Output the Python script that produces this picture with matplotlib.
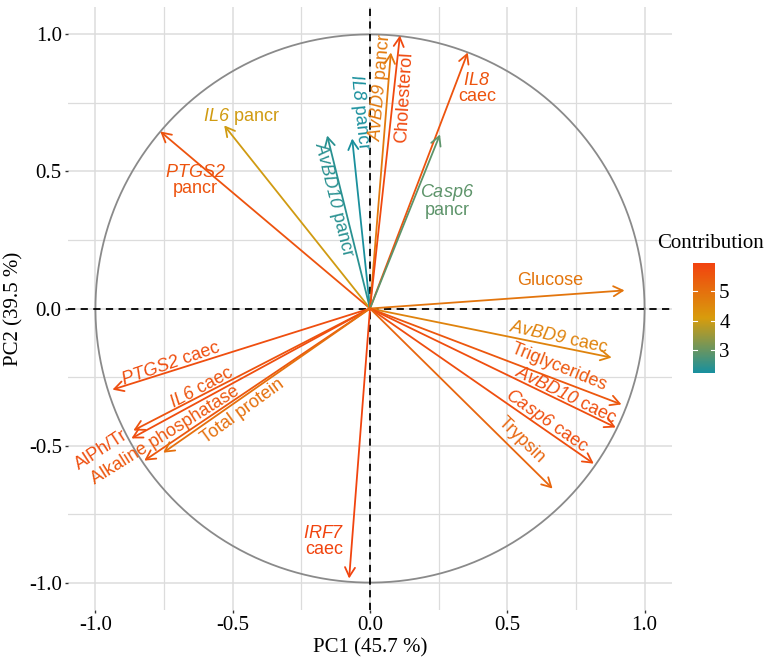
import numpy as np
import matplotlib
matplotlib.use("Agg")
import matplotlib.pyplot as plt
from matplotlib.colors import LinearSegmentedColormap, Normalize
from matplotlib.cm import ScalarMappable

# gene names in italics: math "rm" points at the italic face so digits slant too
plt.rcParams["mathtext.fontset"] = "custom"
plt.rcParams["mathtext.rm"] = "Liberation Sans:italic"
plt.rcParams["mathtext.it"] = "Liberation Sans:italic"

# variables of the correlation circle (coords on PC1 / PC2) and contribution
labels = [
    "$\\mathrm{PTGS2}$\npancr", "$\\mathrm{IL6}$ pancr", "$\\mathrm{AvBD10}$ pancr",
    "$\\mathrm{IL8}$ pancr", "$\\mathrm{AvBD9}$ pancr", "Cholesterol",
    "$\\mathrm{IL8}$\ncaec", "$\\mathrm{Casp6}$\npancr", "Glucose",
    "$\\mathrm{AvBD9}$ caec", "Triglycerides", "$\\mathrm{AvBD10}$ caec",
    "$\\mathrm{Casp6}$ caec", "Trypsin", "$\\mathrm{IRF7}$\ncaec",
    "$\\mathrm{PTGS2}$ caec", "$\\mathrm{IL6}$ caec", "AlPh/Tr",
    "Alkaline phosphatase", "Total protein",
]
pc1 = [-0.764, -0.531, -0.156, -0.065, 0.076, 0.109, 0.356, 0.255, 0.927,
       0.880, 0.916, 0.895, 0.815, 0.665, -0.076, -0.938, -0.862, -0.869,
       -0.822, -0.753]
pc2 = [0.646, 0.668, 0.631, 0.620, 0.934, 0.996, 0.934, 0.635, 0.066,
       -0.179, -0.350, -0.434, -0.566, -0.657, -0.985, -0.296, -0.445, -0.474,
       -0.555, -0.526]
contrib = [5.6, 4.0, 2.4, 2.25, 4.8, 5.8, 5.6, 2.9, 4.9,
           4.6, 5.5, 5.7, 5.7, 5.2, 5.9, 5.7, 5.6, 5.7,
           5.5, 5.0]

# label placement (x, y, rotation)
lab_pos = [(-0.636, 0.467, 0), (-0.469, 0.701, 0), (-0.131, 0.394, -76),
           (-0.040, 0.715, -84), (0.036, 0.807, 85), (0.127, 0.770, 86.5),
           (0.389, 0.803, 0), (0.280, 0.394, 0), (0.658, 0.102, 0),
           (0.687, -0.106, -12.5), (0.687, -0.215, -22), (0.713, -0.318, -26),
           (0.644, -0.412, -35), (0.553, -0.482, -44), (-0.167, -0.850, 0),
           (-0.724, -0.204, 19), (-0.614, -0.288, 28), (-0.978, -0.518, 33),
           (-0.745, -0.464, 32), (-0.465, -0.376, 36)]

cmap = LinearSegmentedColormap.from_list("contrib", ["#17909F", "#D89C0C", "#F2420F"])
norm = Normalize(vmin=2.22, vmax=5.95)

fig = plt.figure(figsize=(7.68, 6.58), dpi=100)
ax = fig.add_axes([68 / 768, 1 - 610 / 658, 604 / 768, 603 / 658])
ax.set_xlim(-1.1, 1.1)
ax.set_ylim(-1.1, 1.1)
ax.set_aspect("equal", adjustable="datalim")
for s in ax.spines.values():
    s.set_visible(False)

ticks = [-1.0, -0.5, 0.0, 0.5, 1.0]
ax.set_xticks(ticks)
ax.set_yticks(ticks)
ax.set_xticks([-0.75, -0.25, 0.25, 0.75], minor=True)
ax.set_yticks([-0.75, -0.25, 0.25, 0.75], minor=True)
ax.set_xticklabels(["-1.0", "-0.5", "0.0", "0.5", "1.0"])
ax.set_yticklabels(["-1.0", "-0.5", "0.0", "0.5", "1.0"])
ax.grid(True, which="major", color="#DCDCDC", lw=1.1)
ax.grid(True, which="minor", color="#DCDCDC", lw=0.9)
ax.set_axisbelow(True)
ax.tick_params(which="major", length=2.5, width=1, color="#333333",
               labelsize=15, pad=2)
ax.tick_params(which="minor", length=0)
for t in ax.get_xticklabels() + ax.get_yticklabels():
    t.set_fontfamily("Liberation Serif")

ax.set_xlabel("PC1 (45.7 %)", fontsize=15, family="Liberation Serif", labelpad=2)
ax.set_ylabel("PC2 (39.5 %)", fontsize=15, family="Liberation Serif", labelpad=4)

th = np.linspace(0, 2 * np.pi, 400)
ax.plot(np.cos(th), np.sin(th), color="#8A8A8A", lw=1.3, zorder=2)
ax.axhline(0, color="black", lw=1.3, ls=(0, (4, 3)), zorder=2)
ax.axvline(0, color="black", lw=1.3, ls=(0, (4, 3)), zorder=2)

for i in range(len(labels)):
    col = cmap(norm(contrib[i]))
    ax.annotate("", xy=(pc1[i], pc2[i]), xytext=(0, 0),
                arrowprops=dict(arrowstyle="->,head_length=0.55,head_width=0.3",
                                color=col, lw=1.3, shrinkA=0, shrinkB=0,
                                mutation_scale=12), zorder=3)
    lx, ly, rot = lab_pos[i]
    ax.text(lx, ly, labels[i], color=col, fontsize=13, family="Liberation Sans",
            rotation=rot, rotation_mode="anchor", ha="center", va="center",
            linespacing=0.95, zorder=4)

# colour legend
cax = fig.add_axes([693 / 768, 1 - 373 / 658, 22 / 768, 110 / 658])
cb = fig.colorbar(ScalarMappable(norm=norm, cmap=cmap), cax=cax, ticks=[3, 4, 5])
cb.outline.set_visible(False)
cb.ax.tick_params(length=0, labelsize=15, pad=3)
for t in cb.ax.get_yticklabels():
    t.set_fontfamily("Liberation Serif")
for v in [3, 4, 5]:
    cax.plot([0, 0.2], [v, v], color="white", lw=0.8, transform=cax.get_yaxis_transform())
    cax.plot([0.8, 1], [v, v], color="white", lw=0.8, transform=cax.get_yaxis_transform())
fig.text(711 / 768, 1 - 244 / 658, "Contribution", fontsize=15,
         family="Liberation Serif", ha="center", va="center")

fig.savefig("out.png", dpi=100)
